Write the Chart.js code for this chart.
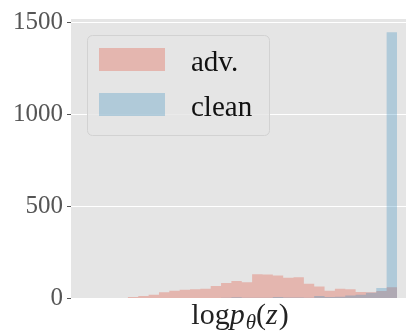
<!DOCTYPE html>
<html>
<head>
<meta charset="utf-8">
<script src="https://cdn.jsdelivr.net/npm/chart.js@4"></script>
<style>
html,body{margin:0;padding:0;background:#fff;overflow:hidden;}
canvas{display:block;}
</style>
</head>
<body>
<canvas id="c" width="406" height="334"></canvas>
<script>
// Histogram bins (30 equal-width bins over log p_theta(z)); bin i spans [i, i+1]
const binEdges = [0,1,2,3,4,5,6,7,8,9,10,11,12,13,14,15,16,17,18,19,20,21,22,23,24,25,26,27,28,29,30];
const advCounts = [0,0,0,0,5,11,18,31,40,45,47,50,66,81,93,86,129,128,122,110,113,77,63,40,50,48,32,31,38,58];
const cleanCounts = [0,0,0,0,0,0,0,0,0,0,0,0,0,1,4,1,1,2,5,3,3,2,11,5,7,14,18,28,54,1447];
const yTicks = [0,500,1000,1500];
const seriesNames = ['adv.','clean'];
const xLabelParts = [['log','normal'],['p','italic'],['θ','italic-sub'],['(','normal'],['z','italic'],[')','normal']];

const RED = 'rgba(226,74,51,0.3)';
const BLUE = 'rgba(52,138,189,0.3)';
const SERIF = '"Liberation Serif", "DejaVu Serif", serif';

const bgPlugin = {
  id:'bg',
  beforeDraw(chart){
    const {ctx, chartArea:a} = chart;
    ctx.save();
    ctx.fillStyle = '#E5E5E5';
    ctx.fillRect(a.left, a.top, a.right-a.left, a.bottom-a.top);
    ctx.restore();
  }
};

function rr(ctx,x,y,w,h,r){
  ctx.beginPath();
  ctx.moveTo(x+r,y);
  ctx.arcTo(x+w,y,x+w,y+h,r);
  ctx.arcTo(x+w,y+h,x,y+h,r);
  ctx.arcTo(x,y+h,x,y,r);
  ctx.arcTo(x,y,x+w,y,r);
  ctx.closePath();
}

const legendPlugin = {
  id:'mplLegend',
  afterDatasetsDraw(chart){
    const ctx = chart.ctx;
    const a = chart.chartArea;
    const x0 = a.left + 16, y0 = a.top + 16;
    ctx.save();
    rr(ctx, x0+0.5, y0+0.5, 182, 100, 5);
    ctx.fillStyle = 'rgba(229,229,229,0.8)';
    ctx.fill();
    ctx.strokeStyle = '#D2D2D2';
    ctx.lineWidth = 1;
    ctx.stroke();
    const colors = [RED, BLUE];
    ctx.font = '29px ' + SERIF;
    ctx.textBaseline = 'alphabetic';
    seriesNames.forEach((n,i)=>{
      const py = y0 + 13 + i*45;
      ctx.fillStyle = colors[i];
      ctx.fillRect(x0+12, py, 66, 23);
      ctx.fillStyle = '#111';
      ctx.fillText(n, x0+104, py+23);
    });
    ctx.restore();
  }
};

const xLabelPlugin = {
  id:'xlab',
  afterDraw(chart){
    const ctx = chart.ctx;
    const size = 30;
    const base = 324;
    ctx.save();
    ctx.fillStyle = '#222';
    ctx.textBaseline = 'alphabetic';
    const fontFor = (st)=> st==='normal' ? size+'px '+SERIF : st==='italic' ? 'italic '+size+'px '+SERIF : 'italic '+Math.round(size*0.7)+'px '+SERIF;
    let total = 0;
    xLabelParts.forEach(([t,st])=>{ ctx.font = fontFor(st); total += ctx.measureText(t).width + (st==='italic'?1:0); });
    let x = 240 - total/2;
    xLabelParts.forEach(([t,st])=>{
      ctx.font = fontFor(st);
      const y = st==='italic-sub' ? base+5 : base;
      ctx.fillText(t, x, y);
      x += ctx.measureText(t).width + (st==='italic'?1:0);
    });
    ctx.restore();
  }
};

// step outline of a histogram: value of bin i held from edge i to edge i+1
const toSteps = arr => binEdges.map((e,i)=>({x: e, y: arr[Math.min(i, arr.length-1)]}));

new Chart(document.getElementById('c'), {
  type:'line',
  data:{
    datasets:[
      {label: seriesNames[0], data: toSteps(advCounts), stepped:'before', fill:'origin', backgroundColor: RED, borderWidth:0, borderColor:'rgba(0,0,0,0)', pointRadius:0, order:1},
      {label: seriesNames[1], data: toSteps(cleanCounts), stepped:'before', fill:'origin', backgroundColor: BLUE, borderWidth:0, borderColor:'rgba(0,0,0,0)', pointRadius:0, order:0}
    ]
  },
  options:{
    responsive:false,
    devicePixelRatio:1,
    animation:false,
    layout:{padding:{top:17,right:0,bottom:36,left:0}},
    plugins:{legend:{display:false}, tooltip:{enabled:false}},
    scales:{
      x:{type:'linear', display:false, min:-1.5, max:30.87, offset:false},
      y:{
        min:0, max:1519,
        afterBuildTicks(s){ s.ticks = yTicks.map(v=>({value:v})); },
        afterFit(s){ s.width = 71; },
        border:{display:false},
        grid:{color:'#FFFFFF', lineWidth:1, tickColor:'#555555', tickLength:4, drawTicks:true},
        ticks:{color:'#555555', padding:4, font:{family:SERIF, size:25}, callback:(v)=>String(v)}
      }
    }
  },
  plugins:[bgPlugin, legendPlugin, xLabelPlugin]
});
</script>
</body>
</html>
